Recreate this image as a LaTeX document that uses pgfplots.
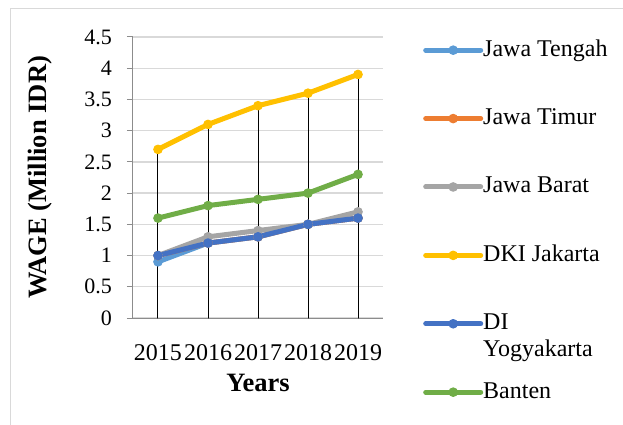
\documentclass[border=0pt]{standalone}
\usepackage{fontspec}
\setmainfont{Liberation Serif}
\usepackage{pgfplots}
\pgfplotsset{compat=1.18}
\definecolor{cTengah}{HTML}{5B9BD5}
\definecolor{cTimur}{HTML}{ED7D31}
\definecolor{cBarat}{HTML}{A5A5A5}
\definecolor{cDKI}{HTML}{FFC000}
\definecolor{cDIY}{HTML}{4472C4}
\definecolor{cBanten}{HTML}{70AD47}
\definecolor{cGrid}{HTML}{D9D9D9}
\definecolor{cAxis}{HTML}{8C8C8C}
\begin{document}
\begin{tikzpicture}
\useasboundingbox (-133pt,-107pt) rectangle (490pt,318pt);
\draw[color=cGrid, line width=1pt] (-122pt,-110pt) -- (-122pt,309pt) -- (495pt,309pt);
\begin{axis}[
  at={(0,0)}, anchor=south west,
  scale only axis, width=250pt, height=281pt,
  xmin=-0.5, xmax=4.5, ymin=0, ymax=4.5,
  xtick={0,1,2,3,4}, xticklabels={2015,2016,2017,2018,2019},
  ytick={0,0.5,1,1.5,2,2.5,3,3.5,4,4.5},
  /pgf/number format/assume math mode=true,
  axis lines*=left,
  axis line style={draw=cAxis, line width=1pt},
  ymajorgrids, grid style={draw=cGrid, line width=1.3pt},
  xtick style={draw=none},
  ytick style={draw=cAxis, line width=1pt},
  tick align=outside, major tick length=6pt,
  yticklabel style={font=\fontsize{22}{26}\selectfont, anchor=east, inner sep=0pt, xshift=-15pt},
  xticklabel style={font=\fontsize{24}{28}\selectfont, anchor=base, inner sep=0pt, yshift=-36pt},
  every axis y label/.style={at={(axis description cs:-0.372,0.5)}, rotate=90, anchor=center, font=\fontsize{26.5}{30}\selectfont\bfseries},
  every axis x label/.style={at={(axis description cs:0.5,-0.263)}, anchor=base, font=\fontsize{26.5}{30}\selectfont\bfseries},
  xlabel={Years}, ylabel={WAGE (Million IDR)},
  legend style={at={(axis description cs:1.16,0.993)}, anchor=north west, draw=none, fill=none, inner sep=0pt, row sep=46.4pt, font=\fontsize{24}{27}\selectfont, nodes={inner sep=0pt, text height=17pt, text depth=5pt}, /tikz/every even column/.append style={column sep=4pt}},
  legend cell align=left,
  legend image code/.code={\draw[#1, mark repeat=2, mark phase=2] plot coordinates {(0pt,0pt) (27.5pt,0pt) (55pt,0pt)};},
  every axis plot/.append style={line width=5pt, line join=round, line cap=round, mark=*, mark size=4.3pt, mark options={solid, line width=1pt}},
]
\addplot[color=cTengah] coordinates {(0,0.9) (1,1.2) (2,1.3) (3,1.5) (4,1.6)};
\addlegendentry{Jawa Tengah}
\addplot[color=cTimur] coordinates {(0,1.0) (1,1.2) (2,1.3) (3,1.5) (4,1.6)};
\addlegendentry{Jawa Timur}
\addplot[color=cBarat] coordinates {(0,1.0) (1,1.3) (2,1.4) (3,1.5) (4,1.7)};
\addlegendentry{Jawa Barat}
\addplot[color=cDKI] coordinates {(0,2.7) (1,3.1) (2,3.4) (3,3.6) (4,3.9)};
\addlegendentry{DKI Jakarta}
\addplot[color=cDIY] coordinates {(0,1.0) (1,1.2) (2,1.3) (3,1.5) (4,1.6)};
\addlegendentry{\smash{\begin{tabular}[t]{@{}l@{}}DI\\Yogyakarta\end{tabular}}}
\addplot[color=cBanten] coordinates {(0,1.6) (1,1.8) (2,1.9) (3,2.0) (4,2.3)};
\addlegendentry{Banten}
\addplot[black, line width=1pt, ycomb, no marks, forget plot] coordinates {(0,2.7) (1,3.1) (2,3.4) (3,3.6) (4,3.9)};
\end{axis}
\end{tikzpicture}
\end{document}
